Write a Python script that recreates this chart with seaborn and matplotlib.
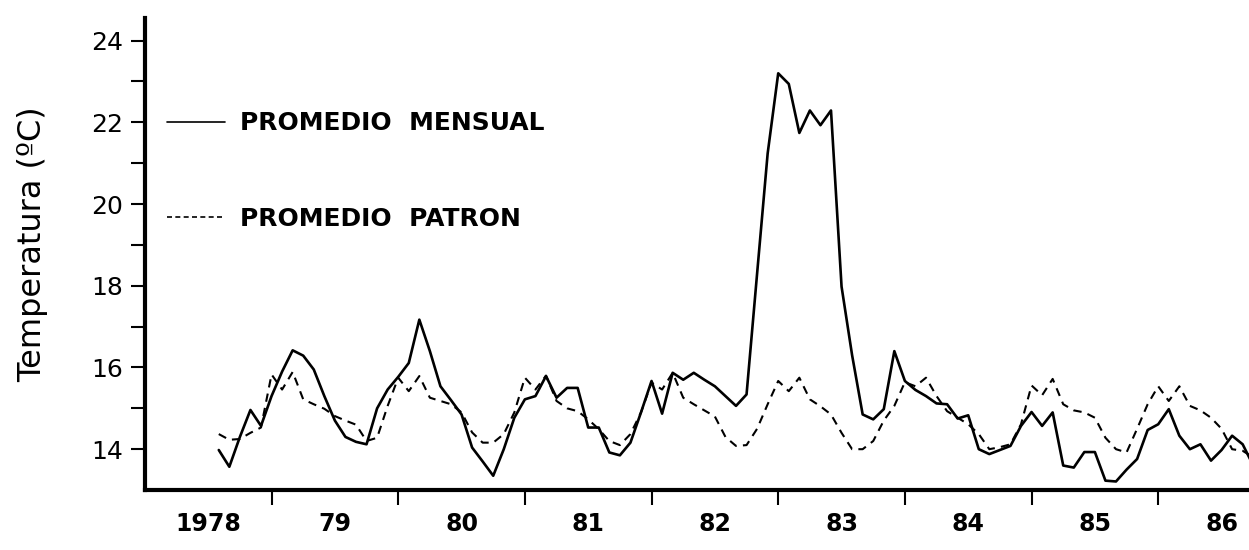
import numpy as np
import pandas as pd
import matplotlib
matplotlib.use('Agg')
import matplotlib.pyplot as plt
import seaborn as sns
from matplotlib.lines import Line2D

# Meses contados desde enero de 1978 (0 = ene 1978)
meses = list(range(7, 106))

# Promedio mensual (linea continua)
mensual = [
    13.98, 13.57, 14.30, 14.96, 14.57, 15.30, 15.90, 16.42, 16.29, 15.95,
    15.30, 14.70, 14.30, 14.18, 14.12, 15.00, 15.46, 15.77, 16.11, 17.17,
    16.40, 15.54, 15.20, 14.85, 14.04, 13.70, 13.35, 14.00, 14.77, 15.22,
    15.30, 15.79, 15.26, 15.50, 15.50, 14.53, 14.53, 13.92, 13.85, 14.16,
    14.90, 15.67, 14.87, 15.87, 15.70, 15.87, 15.70, 15.54, 15.30, 15.06,
    15.34, 18.30, 21.24, 23.20, 22.94, 21.74, 22.29, 21.93, 22.29, 17.98,
    16.30, 14.85, 14.73, 14.98, 16.40, 15.67, 15.45, 15.30, 15.12, 15.10,
    14.75, 14.83, 14.00, 13.88, 13.98, 14.08, 14.57, 14.91, 14.57, 14.90,
    13.60, 13.55, 13.93, 13.93, 13.23, 13.21, 13.50, 13.76, 14.47, 14.61,
    14.98, 14.33, 14.00, 14.12, 13.72, 13.98, 14.33, 14.12, 13.60,
]

# Promedio patron (linea discontinua)
patron = [
    14.37, 14.23, 14.25, 14.40, 14.53, 15.83, 15.46, 15.89, 15.22, 15.10,
    14.99, 14.81, 14.70, 14.60, 14.20, 14.28, 15.06, 15.75, 15.42, 15.79,
    15.26, 15.18, 15.10, 14.90, 14.41, 14.16, 14.16, 14.37, 14.90, 15.75,
    15.46, 15.80, 15.18, 15.00, 14.93, 14.73, 14.49, 14.20, 14.10, 14.37,
    14.90, 15.63, 15.46, 15.87, 15.26, 15.10, 14.95, 14.80, 14.30, 14.08,
    14.10, 14.50, 15.10, 15.67, 15.42, 15.75, 15.22, 15.05, 14.85, 14.40,
    14.00, 14.00, 14.20, 14.70, 15.06, 15.64, 15.54, 15.75, 15.30, 14.93,
    14.77, 14.61, 14.37, 14.00, 14.05, 14.12, 14.61, 15.56, 15.32, 15.72,
    15.10, 14.95, 14.90, 14.77, 14.28, 14.00, 13.92, 14.50, 15.10, 15.54,
    15.18, 15.54, 15.06, 14.95, 14.77, 14.50, 14.00, 13.96, 13.80,
]

anios = ['1978', '79', '80', '81', '82', '83', '84', '85', '86']

df = pd.DataFrame({'mes': meses, 'mensual': mensual, 'patron': patron})

sns.set_theme(style='white')
plt.rcParams['font.family'] = ['DejaVu Sans']
plt.rcParams['text.color'] = 'black'
plt.rcParams['axes.labelcolor'] = 'black'
plt.rcParams['xtick.color'] = 'black'
plt.rcParams['ytick.color'] = 'black'

fig = plt.figure(figsize=(12.49, 5.5), dpi=100)
ax = fig.add_axes([0.116, 0.109, 0.884, 0.858])

sns.lineplot(data=df, x='mes', y='mensual', ax=ax, color='black', linewidth=1.9)
sns.lineplot(data=df, x='mes', y='patron', ax=ax, color='black', linewidth=1.5,
             linestyle=(0, (4, 3)))

ax.set_xlim(0, 104.6)
ax.set_ylim(13.0, 24.55)

# Eje Y
ax.set_yticks(range(14, 25))
ax.set_yticklabels([str(v) if v % 2 == 0 else '' for v in range(14, 25)], fontsize=18)
ax.tick_params(axis='y', left=True, direction='out', length=10, width=1.5, pad=6)
ax.set_ylabel('Temperatura (ºC)', fontsize=23, labelpad=20)
ax.yaxis.set_label_coords(-0.088, 0.52)

# Eje X: marcas en el cambio de año, etiquetas al centro de cada año
ax.set_xticks([12 * i for i in range(1, 9)])
ax.set_xticklabels([])
ax.set_xticks([12 * i + 6 for i in range(len(anios))], minor=True)
ax.set_xticklabels(anios, minor=True, fontsize=17, fontweight='bold')
ax.tick_params(axis='x', which='major', bottom=True, direction='out', length=11, width=1.5)
ax.tick_params(axis='x', which='minor', bottom=True, length=0, pad=16)
ax.set_xlabel('')

for s in ['top', 'right']:
    ax.spines[s].set_visible(False)
for s in ['left', 'bottom']:
    ax.spines[s].set_color('black')
    ax.spines[s].set_linewidth(3)

handles = [
    Line2D([], [], color='black', linewidth=1.2),
    Line2D([], [], color='black', linewidth=1.2, linestyle=(0, (3, 2))),
]
ax.legend(handles, ['PROMEDIO  MENSUAL', 'PROMEDIO  PATRON'], loc='upper left',
          bbox_to_anchor=(0.0, 0.85), frameon=False, handlelength=2.3,
          handletextpad=0.6, labelspacing=2.85, prop={'size': 18, 'weight': 'bold'})

fig.savefig('out.png', dpi=100)
